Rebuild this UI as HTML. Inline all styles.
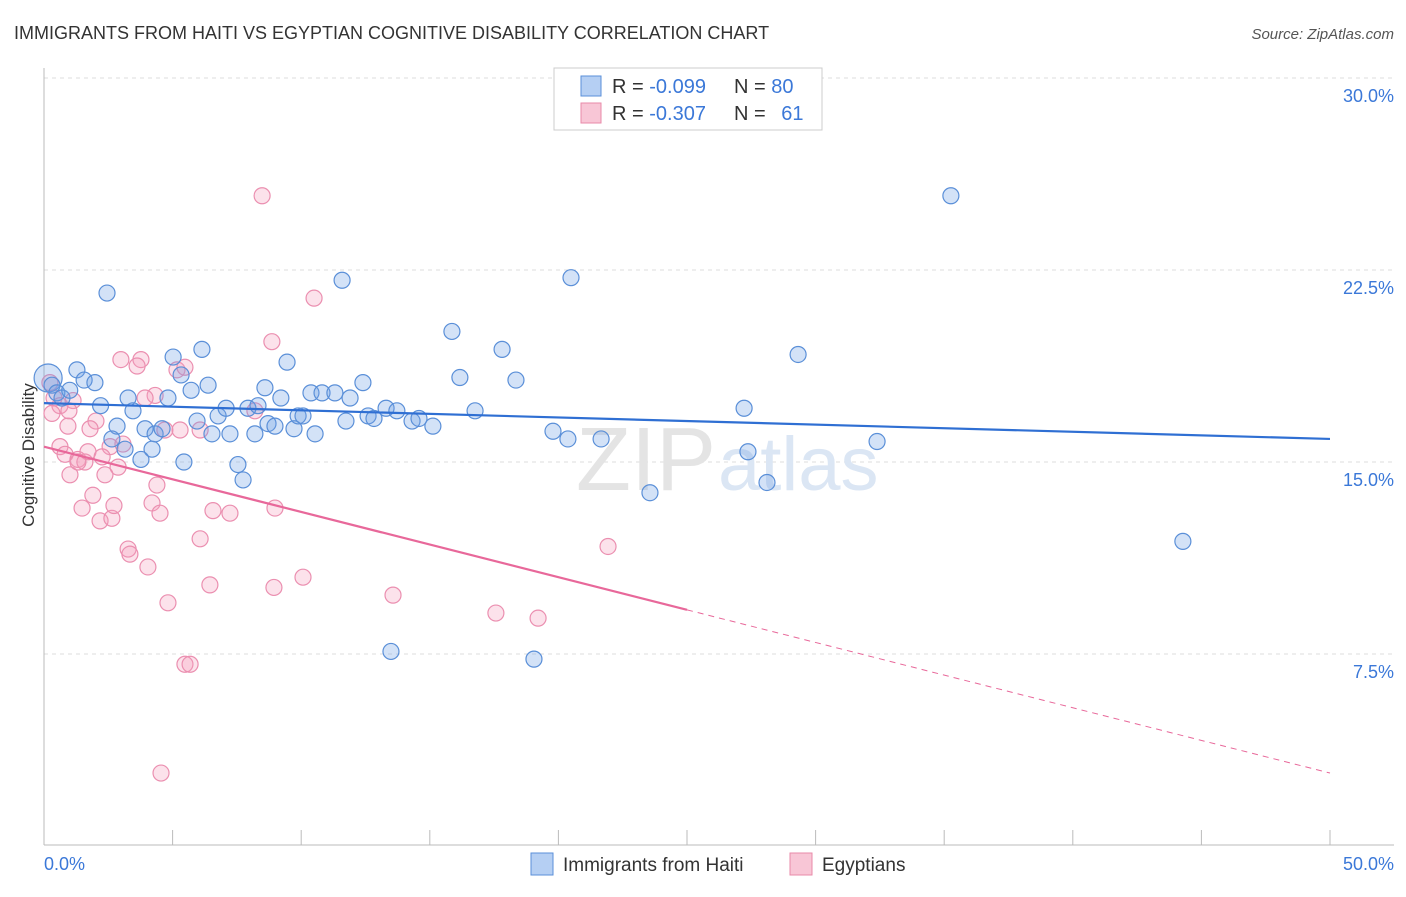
<!DOCTYPE html>
<html><head><meta charset="utf-8"><style>
body{margin:0;background:#fff;font-family:"Liberation Sans",sans-serif;}
svg text{font-family:"Liberation Sans",sans-serif;}
</style></head><body>
<svg id="chart" width="1406" height="892" xmlns="http://www.w3.org/2000/svg">
<text x="14" y="39" font-size="18" fill="#333">IMMIGRANTS FROM HAITI VS EGYPTIAN COGNITIVE DISABILITY CORRELATION CHART</text>
<text x="1394" y="39" font-size="15" fill="#555" text-anchor="end" font-style="italic">Source: ZipAtlas.com</text>
<g id="grid"></g>
<text x="716" y="490" font-size="90" fill="#e4e4e4" text-anchor="end" font-family="Liberation Serif">ZIP</text>
<text x="718" y="490" font-size="76" fill="#dbe6f4">atlas</text>
<g id="pts"></g>
<g id="lines"></g>
<text x="34" y="455" font-size="17" fill="#333" text-anchor="middle" transform="rotate(-90 34 455)">Cognitive Disability</text>
<text x="44" y="870" font-size="18" fill="#3b78d8">0.0%</text>
<text x="1394" y="870" font-size="18" fill="#3b78d8" text-anchor="end">50.0%</text>
<g>
<rect x="554" y="68" width="268" height="62" fill="#fff" stroke="#ccc"/>
<rect x="581" y="76" width="20" height="20" fill="#b5cff3" stroke="#5a8fd8"/>
<rect x="581" y="103" width="20" height="20" fill="#f8c6d6" stroke="#e88aa8"/>
<text x="612" y="93" font-size="20" fill="#333">R = <tspan fill="#3b78d8">-0.099</tspan></text>
<text x="734" y="93" font-size="20" fill="#333">N = <tspan fill="#3b78d8">80</tspan></text>
<text x="612" y="120" font-size="20" fill="#333">R = <tspan fill="#3b78d8">-0.307</tspan></text>
<text x="734" y="120" font-size="20" fill="#333">N = <tspan fill="#3b78d8" dx="10">61</tspan></text>
</g>
<g>
<rect x="531" y="853" width="22" height="22" fill="#b5cff3" stroke="#5a8fd8"/>
<text x="563" y="871" font-size="19" fill="#333">Immigrants from Haiti</text>
<rect x="790" y="853" width="22" height="22" fill="#f8c6d6" stroke="#e88aa8"/>
<text x="822" y="871" font-size="19" fill="#333">Egyptians</text>
</g>
</svg>
<script>
const yTicks=[7.5,15,22.5,30];
const yTickLabels=["7.5%","15.0%","22.5%","30.0%"];
const xTicks=[0,5,10,15,20,25,30,35,40,45,50];
const haitiX=[0.16,0.31,0.5,0.7,1.0,1.28,1.56,1.98,2.2,2.45,2.84,2.64,3.15,3.27,3.46,3.77,3.93,4.2,4.32,4.59,4.82,5.02,5.33,5.44,5.72,5.95,6.14,6.38,6.53,6.77,7.08,7.23,7.54,7.74,7.93,8.2,8.32,8.59,8.71,8.98,9.21,9.45,9.72,9.88,10.07,10.38,10.54,10.81,11.31,11.59,11.74,11.9,12.4,12.6,12.83,13.3,13.72,14.31,14.58,15.12,15.86,16.17,16.76,17.81,18.35,19.79,20.37,21.66,23.56,13.49,19.05,20.49,27.22,27.37,28.11,29.32,32.39,35.26,44.28];
const haitiY=[18.28,18.0,17.7,17.5,17.8,18.6,18.2,18.1,17.2,21.6,16.4,15.9,15.5,17.5,17.0,15.1,16.3,15.5,16.1,16.3,17.5,19.1,18.4,15.0,17.8,16.6,19.4,18.0,16.1,16.8,17.1,16.1,14.9,14.3,17.1,16.1,17.2,17.9,16.5,16.4,17.5,18.9,16.3,16.8,16.8,17.7,16.1,17.7,17.7,22.1,16.6,17.5,18.1,16.8,16.7,17.1,17.0,16.6,16.7,16.4,20.1,18.3,17.0,19.4,18.2,16.2,15.9,15.9,13.8,7.6,7.3,22.2,17.1,15.4,14.2,19.2,15.8,25.4,11.9];
const egyX=[8.48,10.5,8.86,2.99,3.77,3.62,5.17,4.32,3.93,0.23,0.39,0.62,1.13,0.31,0.93,2.02,1.79,0.62,0.82,1.32,1.59,1.71,2.57,3.07,2.88,2.37,1.01,1.9,1.48,2.18,2.64,2.72,4.2,4.51,4.39,3.27,3.34,4.04,6.07,4.7,6.57,7.23,8.98,8.2,6.07,4.82,6.45,8.94,10.07,13.57,17.57,19.21,21.93,5.48,5.68,4.55,5.29,5.48,2.26,1.32,0.97];
const egyY=[25.4,21.4,19.7,19.0,19.0,18.75,18.6,17.6,17.5,18.1,17.5,17.2,17.4,16.9,16.4,16.6,16.3,15.6,15.3,15.1,15.0,15.4,15.6,15.7,14.8,14.5,14.5,13.7,13.2,12.7,12.8,13.3,13.4,13.0,14.1,11.6,11.4,10.9,16.25,16.25,13.1,13.0,13.2,17.0,12.0,9.5,10.2,10.1,10.5,9.8,9.1,8.9,11.7,7.1,7.1,2.85,16.25,18.7,15.2,15.0,17.0];
const haitiTrend=[17.3,15.9];
const egyTrend=[15.6,2.85];
const egySolidEnd=25;

const NS="http://www.w3.org/2000/svg";
const X=v=>44+v/50*1286;
const Y=v=>846-v*25.6;
function mk(tag,attrs,parent){const e=document.createElementNS(NS,tag);for(const k in attrs)e.setAttribute(k,attrs[k]);parent.appendChild(e);return e;}
const grid=document.getElementById('grid');
yTicks.forEach((t,i)=>{
  const l=mk('line',{x1:44,x2:1394,y1:Y(t),y2:Y(t),stroke:'#ddd','stroke-dasharray':'4,4'},grid);
  
  
  const tx=mk('text',{x:1394,y:Y(t)+24,'font-size':18,fill:'#3b78d8','text-anchor':'end'},grid);
  tx.textContent=yTickLabels[i];
  
  
});
const ax=mk('line',{x1:44,x2:44,y1:68,y2:845,stroke:'#bbb'},grid);


const bx=mk('line',{x1:44,x2:1394,y1:845,y2:845,stroke:'#bbb'},grid);


xTicks.forEach(t=>{
  const l=mk('line',{x1:X(t),x2:X(t),y1:830,y2:845,stroke:'#bbb'},grid);
  
  
});
const pts=document.getElementById('pts');
egyX.forEach((v,i)=>{
  const c=mk('circle',{cx:X(v),cy:Y(egyY[i]),r:8,fill:'rgba(244,160,190,0.3)',stroke:'#eb8fb0','stroke-width':1.2},pts);
  
  
});
haitiX.forEach((v,i)=>{
  const c=mk('circle',{cx:X(v),cy:Y(haitiY[i]),r:i===0?14:8,fill:'rgba(110,160,230,0.3)',stroke:'#5a8fd8','stroke-width':1.2},pts);
  
  
});
const lines=document.getElementById('lines');
const hl=mk('line',{x1:X(0),y1:Y(haitiTrend[0]),x2:X(50),y2:Y(haitiTrend[1]),stroke:'#2f6fd3','stroke-width':2.2},lines);


const ey=x=>egyTrend[0]+(egyTrend[1]-egyTrend[0])*x/50;
const el1=mk('line',{x1:X(0),y1:Y(ey(0)),x2:X(egySolidEnd),y2:Y(ey(egySolidEnd)),stroke:'#e8689a','stroke-width':2.2},lines);


const el2=mk('line',{x1:X(egySolidEnd),y1:Y(ey(egySolidEnd)),x2:X(50),y2:Y(ey(50)),stroke:'#e8689a','stroke-width':1,'stroke-dasharray':'6,5'},lines);


</script>
</body></html>
